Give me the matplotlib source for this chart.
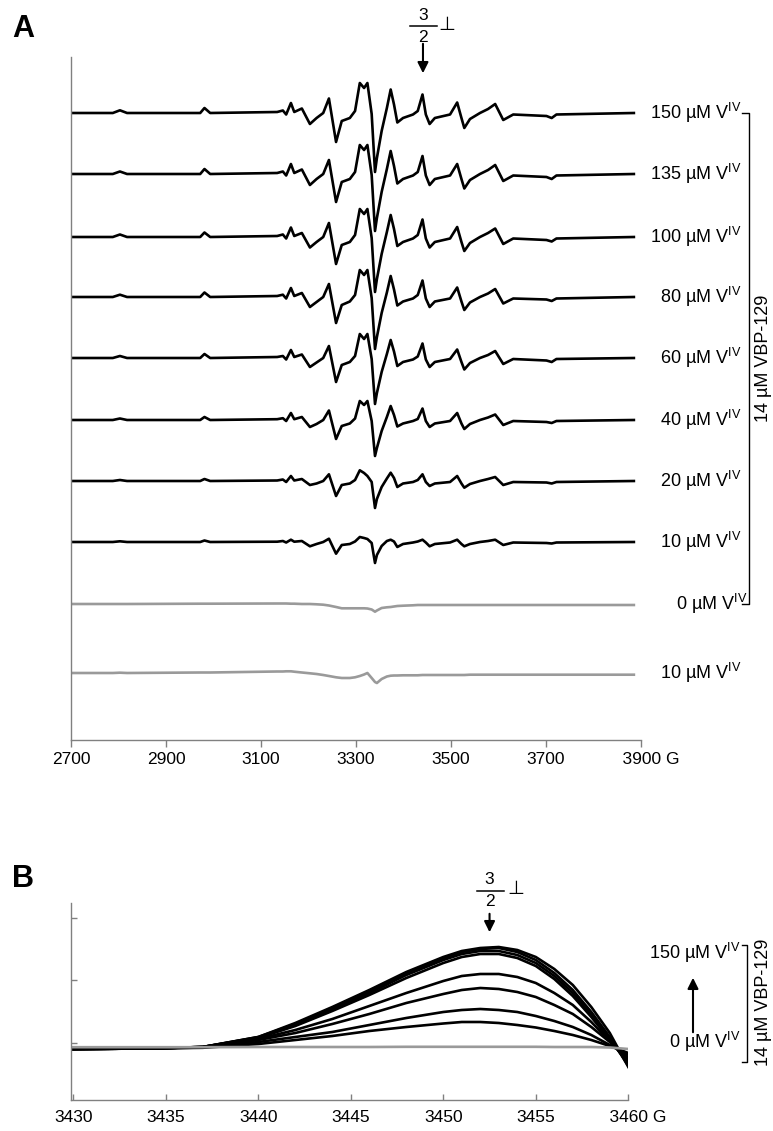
import numpy as np
import matplotlib
matplotlib.use("Agg")
import matplotlib.pyplot as plt

plt.rcParams['font.family'] = ['Liberation Sans', 'DejaVu Sans']
plt.rcParams['mathtext.fontset'] = 'custom'
plt.rcParams['mathtext.rm'] = 'Liberation Sans'

# ---------------- panel A data (field in G, signal in arbitrary units) ----------------
field_a = [2700, 2788, 2803, 2818, 2972, 2981, 2993, 3134, 3146, 3153, 3163, 3170, 3186,
           3203, 3217, 3231, 3243, 3258, 3270, 3287, 3298, 3308, 3317, 3324, 3333, 3340,
           3344, 3354, 3365, 3373, 3380, 3387, 3399, 3420, 3430, 3440, 3447, 3455, 3466,
           3498, 3513, 3522, 3528, 3540, 3561, 3578, 3593, 3610, 3631, 3701, 3712, 3722, 3885]

a_150 = [0, 0, 2.7, 0, 0, 5, 0, 1, 2.5, -1.5, 10, 1, 4.5, -11, -5, 0, 14.5, -29, -8, -5, 2,
         30, 25, 30, -1, -59, -45, -18, 5, 23.5, 8.5, -9.5, -5, -1.5, 2, 18.5, -1.5, -11, -5,
         -1.5, 10.5, -5, -15, -6, 0, 4, 9, -7, -1.5, -3, -5, -1.5, 0]
a_135 = [0, 0, 2.5, 0, 0, 5, 0, 1, 2.5, -1.5, 10, 1, 4.5, -11, -5, 0, 14, -28, -8, -5, 2,
         29, 24, 29, -1, -57, -44, -18, 5, 23, 8, -9.5, -5, -1.5, 2, 18, -1.5, -11, -5,
         -1.5, 10, -5, -14.5, -6, 0, 4, 9, -7, -1.5, -3, -5, -1.5, 0]
a_100 = [0, 0, 2.5, 0, 0, 4.5, 0, 1, 2.5, -1.5, 9.5, 1, 4, -10.5, -5, 0, 14, -27, -8, -5, 2,
         28, 23, 28, -1, -55, -42, -17, 5, 22, 8, -9, -5, -1.5, 2, 17.5, -1.5, -10.5, -5,
         -1.5, 10, -5, -14, -6, 0, 4, 8.5, -7, -1.5, -3, -4.5, -1.5, 0]
a_80 = [0, 0, 2.3, 0, 0, 4.5, 0, 1, 2.3, -1.5, 9, 1, 4, -10, -5, 0, 13, -26, -8, -4.5, 2,
        27, 22, 27, -1, -52, -40, -16, 4.5, 21, 7.5, -8.5, -4.5, -1.5, 2, 16.5, -1.5, -10, -4.5,
        -1.5, 9.5, -4.5, -13, -5.5, 0, 3.5, 8, -6.5, -1.5, -2.5, -4, -1.5, 0]
a_60 = [0, 0, 2, 0, 0, 4, 0, 1, 2, -1.5, 8, 1, 3.5, -9, -4.5, 0, 12, -24, -7, -4, 2,
        24, 19, 24, -1, -46, -35, -14, 4, 18, 6.5, -8, -4, -1.5, 1.5, 14.5, -1.5, -9, -4,
        -1, 8.5, -4, -11.5, -5, 0, 3, 7, -6, -1, -2.5, -4, -1, 0]
a_40 = [0, 0, 1.5, 0, 0, 3, 0, 0.8, 1.8, -1, 7, 0.8, 3, -7, -4, 0, 9.5, -19, -6, -3.5, 1.5,
        19, 15, 19, -1, -36, -28, -11, 3, 14, 5, -6.5, -3.5, -1, 1, 11.5, -1, -7, -3.5,
        -1, 7, -3.5, -9, -4, 0, 2.5, 5.5, -5, -1, -2, -3, -1, 0]
a_20 = [0, 0, 1, 0, 0, 2, 0, 0.5, 1.5, -1, 5, 0.5, 2, -4, -2.5, 0, 6.7, -15, -4, -2.5, 1,
        10.7, 8, 5, -1, -27, -18, -6, 2.5, 8.3, 3, -6, -2.5, -1, 1, 6.7, -1, -5, -2.5,
        -1, 5, -2.5, -6.7, -3, 0, 2, 4, -4, -1, -1.5, -2.5, -1, 0]
a_10 = [0, 0, 0.7, 0, 0, 1.5, 0, 0.3, 1, -0.5, 2.3, 0.3, 1, -4.3, -2, 0, 3.3, -11.7, -3, -2, 0.5,
        5, 4, 3, -1, -21, -13, -4, 1, 2.3, 0.5, -5, -2, -0.5, 0.5, 2.3, -0.5, -4.3, -2,
        -0.5, 2.3, -2, -4.3, -2, 0, 1, 2.3, -3, -0.5, -1, -1.5, -0.5, 0]
a_0_ctrl = [0, 0, 0, 0, 0.3, 0.3, 0.3, 0.5, 0.5, 0.5, 0.3, 0.3, 0, 0, -0.3, -0.7, -1.5, -3, -4.3,
            -4.3, -4.3, -4.3, -4.3, -4.5, -5.5, -7.7, -6.5, -4, -3.3, -3, -2.5, -2, -1.7, -1.3,
            -1, -1, -1, -1, -1, -1, -1, -1, -1, -1, -1, -1, -1, -1, -1, -1, -1, -1, -1]
a_10_free = [0, 0, 0.3, 0, 0.5, 0.5, 0.5, 1.5, 1.5, 1.7, 1.7, 1.3, 0.5, -0.3, -1, -2, -3, -4.3, -5,
             -5, -4.3, -3, -1.5, 0, -5, -9, -10, -6, -3.5, -2.7, -2.5, -2.5, -2.3, -2.3, -2.3,
             -2, -2, -2, -2, -2, -2, -2, -2, -1.7, -1.7, -1.7, -1.7, -1.7, -1.7, -1.7, -1.7, -1.7, -1.7]

labels_a = ['150', '135', '100', '80', '60', '40', '20', '10', '0', '10']
traces_a = [a_150, a_135, a_100, a_80, a_60, a_40, a_20, a_10, a_0_ctrl, a_10_free]
ticks_a = [2700, 2900, 3100, 3300, 3500, 3700, 3900]

# ---------------- panel B data ----------------
field_b = [3430, 3434, 3437, 3440, 3442, 3444, 3446, 3448, 3450, 3451, 3452, 3453, 3454,
           3455, 3456, 3457, 3458, 3459, 3460]
b_150 = [0, 0.5, 2, 12, 26, 42, 59, 77, 92, 98, 101, 102, 99, 92, 80, 64, 42, 16, -18]
b_135 = [0, 0.5, 2, 12, 25, 41, 58, 76, 91, 97, 100, 101, 97, 89, 76, 59, 37, 12, -17]
b_100 = [0, 0.5, 2, 11.5, 24, 40, 56, 74, 89, 95, 98, 98, 94, 86, 73, 56, 34, 10, -15]
b_80 = [0, 0.5, 2, 11, 23, 38, 54, 71, 86, 92, 95, 95, 91, 83, 70, 53, 32, 9, -14]
b_60 = [0, 0.5, 2, 10, 19, 30, 43, 56, 68, 73, 75, 75, 72, 66, 56, 44, 27, 8, -11]
b_40 = [0, 0.5, 1.8, 9, 16, 25, 35, 46, 55, 59, 61, 60, 57, 52, 44, 35, 22, 7, -9]
b_20 = [0, 0.5, 1.5, 7, 12, 17, 24, 31, 37, 39, 40, 39, 37, 33, 28, 22, 14, 4, -6]
b_10 = [0, 0.5, 1.2, 5, 9, 13, 18, 22, 25.5, 27, 27, 26, 24, 21.5, 18, 14, 9, 3, -4]
b_0 = [1.8, 1.8, 1.8, 2, 2, 2, 2, 2.2, 2.2, 2.2, 2.2, 2.2, 2.2, 2.2, 2, 2, 2, 1.5, 0]
traces_b = [b_150, b_135, b_100, b_80, b_60, b_40, b_20, b_10]
ticks_b = [3430, 3435, 3440, 3445, 3450, 3455, 3460]

# layout
W, H = 773, 1131
offsets_a = [627, 566, 503, 443, 382, 320, 259, 198, 136, 67]
black = '#000000'
grey = '#9a9a9a'
spine_col = '#808080'
lab_size = 13
tick_size = 12.5
lw_tr = 1.9
sup = 'V$^{\\mathregular{IV}}$'
arrow_kw = dict(arrowstyle='-|>', color='k', lw=1.5, mutation_scale=16)

fig = plt.figure(figsize=(W / 100, H / 100), dpi=100)

# ---------------- panel A ----------------
axA = fig.add_axes([71 / W, 1 - 740 / H, 570 / W, 683 / H])
for i, (tr, off) in enumerate(zip(traces_a, offsets_a)):
    col = grey if i >= 8 else black
    axA.plot(field_a, np.array(tr) + off, color=col, lw=lw_tr, solid_joinstyle='round')

axA.set_xlim(2700, 3900)
axA.set_ylim(0, 683)
for s in ['top', 'right']:
    axA.spines[s].set_visible(False)
for s in ['left', 'bottom']:
    axA.spines[s].set_color(spine_col)
    axA.spines[s].set_linewidth(1.0)
axA.set_yticks([])
axA.set_xticks(ticks_a)
axA.set_xticklabels([str(t) for t in ticks_a[:-1]] + ['    3900 G'])
axA.tick_params(axis='x', direction='out', length=5, width=1, color=spine_col,
                labelsize=tick_size, pad=4)

ytr = axA.get_yaxis_transform()
for i, (lab, off) in enumerate(zip(labels_a, offsets_a)):
    xr = (747 - 71) / 570 if i == 8 else (741 - 71) / 570
    axA.text(xr, off, lab + ' µM ' + sup, transform=ytr, ha='right', va='center',
             fontsize=lab_size, clip_on=False)

# bracket
bx = (749 - 71) / 570
bt = (742 - 71) / 570
axA.plot([bt, bx, bx, bt], [offsets_a[0], offsets_a[0], offsets_a[8], offsets_a[8]],
         transform=ytr, color='k', lw=1.0, clip_on=False)
axA.text((764 - 71) / 570, (offsets_a[0] + offsets_a[8]) / 2, '14 µM VBP-129',
         transform=ytr, rotation=90, ha='center', va='center', fontsize=lab_size,
         clip_on=False)

# 3/2 perpendicular marker
px_g = 1200 / 570
xa = 3441
axA.annotate('', xy=(xa, 664), xytext=(xa, 699), arrowprops=arrow_kw,
             annotation_clip=False)
axA.text(xa, 724, '3', ha='center', va='center', fontsize=12.5, clip_on=False)
axA.plot([xa - 13 * px_g, xa + 14 * px_g], [714, 714], color='k', lw=1.1, clip_on=False)
axA.text(xa, 703, '2', ha='center', va='center', fontsize=12.5, clip_on=False)
axA.text(xa + 24 * px_g, 714, '\u22a5', ha='center', va='center', fontsize=14,
         clip_on=False)

fig.text(12 / W, 1 - 29 / H, 'A', fontsize=22, fontweight='bold', va='center', ha='left',
         family='Liberation Sans')

# ---------------- panel B ----------------
bl, br = 70.7, 628.3
axB = fig.add_axes([bl / W, 1 - 1100 / H, (br - bl) / W, 197 / H])
for tr in traces_b:
    axB.plot(field_b, tr, color=black, lw=lw_tr, solid_joinstyle='round')
axB.plot(field_b, b_0, color=grey, lw=lw_tr)

px_b = 1 / 18.5
axB.set_xlim(3430 - 2.6 * px_b, 3460)
axB.set_ylim(-51, 146)
for s in ['top', 'right']:
    axB.spines[s].set_visible(False)
for s in ['left', 'bottom']:
    axB.spines[s].set_color(spine_col)
    axB.spines[s].set_linewidth(1.0)
axB.set_yticks([131, 69, 6])
axB.set_yticklabels([])
axB.set_xticks(ticks_b)
axB.set_xticklabels([str(t) for t in ticks_b[:-1]] + ['    3460 G'])
axB.tick_params(axis='both', direction='in', length=4, width=1, color=spine_col,
                labelsize=tick_size, pad=7)

ytrB = axB.get_yaxis_transform()
wB = br - bl
axB.text((740 - bl) / wB, 96, '150 µM ' + sup, transform=ytrB, ha='right', va='center',
         fontsize=lab_size, clip_on=False)
axB.text((740 - bl) / wB, 7, '0 µM ' + sup, transform=ytrB, ha='right', va='center',
         fontsize=lab_size, clip_on=False)
axB.annotate('', xy=((693 - bl) / wB, 74), xytext=((693 - bl) / wB, 14),
             xycoords=ytrB, textcoords=ytrB, arrowprops=arrow_kw, annotation_clip=False)
bxB = (747 - bl) / wB
btB = (742 - bl) / wB
axB.plot([btB, bxB, bxB, btB], [104, 104, -13, -13], transform=ytrB, color='k', lw=1.0,
         clip_on=False)
axB.text((764 - bl) / wB, 47, '14 µM VBP-129', transform=ytrB, rotation=90,
         ha='center', va='center', fontsize=lab_size, clip_on=False)

xb = 3452.5
axB.annotate('', xy=(xb, 114), xytext=(xb, 138), arrowprops=arrow_kw,
             annotation_clip=False)
axB.text(xb, 169, '3', ha='center', va='center', fontsize=12.5, clip_on=False)
axB.plot([xb - 13 * px_b, xb + 14 * px_b], [158, 158], color='k', lw=1.1, clip_on=False)
axB.text(xb, 148, '2', ha='center', va='center', fontsize=12.5, clip_on=False)
axB.text(xb + 26 * px_b, 159, '\u22a5', ha='center', va='center', fontsize=14,
         clip_on=False)

fig.text(12 / W, 1 - 879 / H, 'B', fontsize=22, fontweight='bold', va='center', ha='left',
         family='Liberation Sans')

fig.savefig('out.png', dpi=100)
